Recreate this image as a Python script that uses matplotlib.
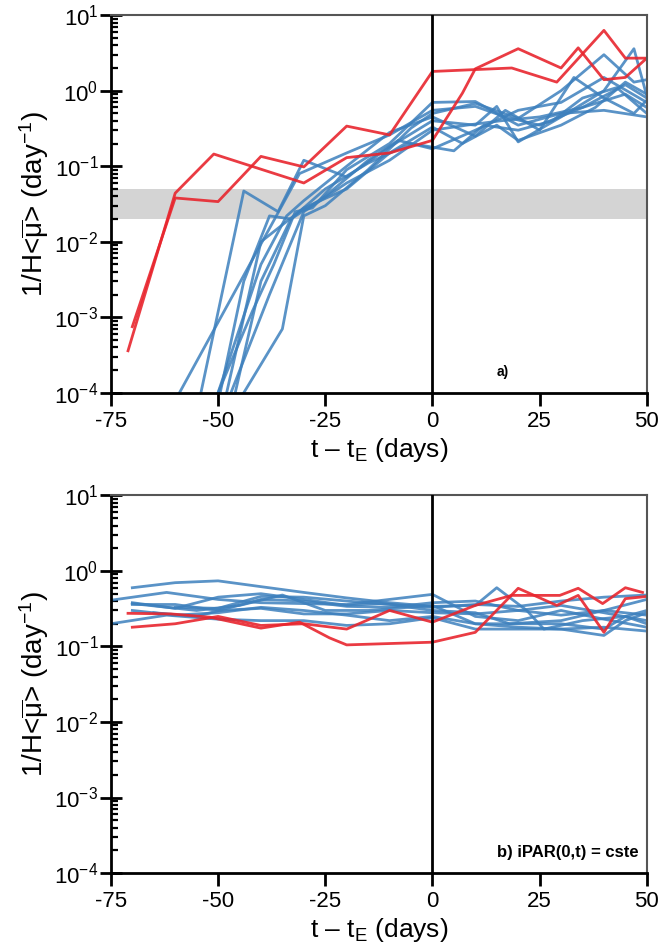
import numpy as np
import matplotlib
matplotlib.use("Agg")
import matplotlib.pyplot as plt
from matplotlib.ticker import LogLocator, LogFormatterMathtext, NullFormatter

plt.rcParams["font.family"] = ["Liberation Sans", "DejaVu Sans"]
plt.rcParams["mathtext.fontset"] = "custom"
plt.rcParams["mathtext.rm"] = "Liberation Sans"
plt.rcParams["mathtext.it"] = "Liberation Sans"
plt.rcParams["mathtext.bf"] = "Liberation Sans:bold"
plt.rcParams["axes.unicode_minus"] = False

# ---- panel a) : red runs ----
red_a_t = [[-71, -60, -51, -30, -20, -10, 0, 7, 10, 20, 30, 34, 40, 45, 50],
           [-70, -60, -50, -40, -30, -20, -10, 0, 18.5, 29, 40, 45, 50]]
red_a_v = [[0.00036, 0.044, 0.145, 0.06, 0.13, 0.15, 0.22, 0.93, 1.95, 3.6, 2.0, 3.7, 1.4, 1.5, 2.7],
           [0.00075, 0.038, 0.034, 0.135, 0.098, 0.34, 0.26, 1.8, 2.0, 1.3, 6.3, 2.7, 2.7]]

# ---- panel a) : blue runs ----
blue_a_t = [[-59, -31, -20, -10, 0, 10, 17, 25, 35, 45, 50],
            [-54, -44, -36, -30, -20, -10, 0, 10, 15, 20, 30, 40, 47, 50],
            [-50, -40, -34, -30, -20, -10, 0, 10, 17, 25, 33, 40, 47, 50],
            [-49.5, -44, -38, -33, -25, -15, -5, 5, 12, 20, 28, 35, 43, 50],
            [-48, -40, -30, -20, -10, 0, 7, 15, 20, 30, 38, 45, 50],
            [-44, -35, -30, -25, -15, -5, 0, 10, 20, 30, 40, 47, 50],
            [-50, -42, -37, -32, -28, -20, -10, 0, 10, 20, 30, 40, 50],
            [-46, -40, -33, -25, -15, -8, 0, 10, 20, 30, 40, 50],
            [-47, -38, -30, -20, -10, 0, 8, 16, 25, 35, 45, 50]]
blue_a_v = [[1e-4, 0.08, 0.15, 0.26, 0.55, 0.62, 0.45, 0.35, 0.6, 1.2, 0.8],
            [1e-4, 0.047, 0.025, 0.12, 0.072, 0.18, 0.4, 0.35, 0.62, 0.21, 0.45, 1.0, 3.6, 0.85],
            [1e-4, 0.005, 0.022, 0.035, 0.1, 0.28, 0.45, 0.25, 0.55, 0.3, 1.5, 0.8, 0.5, 0.75],
            [1e-4, 0.003, 0.022, 0.02, 0.05, 0.11, 0.2, 0.16, 0.35, 0.3, 0.4, 0.8, 1.1, 0.5],
            [1e-4, 0.01, 0.028, 0.05, 0.15, 0.33, 0.2, 0.35, 0.22, 0.35, 0.6, 1.3, 0.9],
            [1e-4, 0.0007, 0.022, 0.03, 0.09, 0.32, 0.5, 0.68, 0.43, 1.0, 3.0, 1.3, 1.4],
            [1e-4, 0.0012, 0.005, 0.025, 0.028, 0.09, 0.2, 0.7, 0.72, 0.35, 0.5, 0.55, 0.45],
            [1e-4, 0.003, 0.02, 0.04, 0.12, 0.22, 0.17, 0.3, 0.55, 0.7, 1.5, 0.7],
            [1e-4, 0.002, 0.025, 0.06, 0.12, 0.3, 0.35, 0.4, 0.45, 0.6, 0.9, 0.6]]

# ---- panel b) : red runs ----
red_b_t = [[-71, -61, -52, -40, -31, -24, -20, 0, 10, 20, 29, 34, 40, 45, 50],
           [-70, -60, -50, -40, -30, -20, -10, 0, 10, 18.5, 29.7, 34, 39.7, 45, 49]]
red_b_v = [[0.275, 0.27, 0.245, 0.175, 0.21, 0.13, 0.105, 0.114, 0.154, 0.59, 0.35, 0.475, 0.154, 0.43, 0.46],
           [0.18, 0.2, 0.25, 0.19, 0.2, 0.17, 0.3, 0.21, 0.35, 0.475, 0.475, 0.59, 0.37, 0.6, 0.52]]

# ---- panel b) : blue runs ----
blue_b_t = [[-70, -60, -50, -40, -30, -20, -10, 0, 10, 15, 22, 26, 35, 45, 50],
            [-75, -62, -50, -40, -30, -20, -10, 0, 10, 20, 30, 40, 50],
            [-70, -60, -50, -40, -30, -20, -12, 0, 10, 20, 30, 40, 50],
            [-70, -55, -45, -35, -25, -15, 0, 10, 20, 30, 40, 45, 50],
            [-70, -60, -50, -40, -30, -20, -10, 0, 10, 20, 30, 40, 45, 50],
            [-75, -62, -50, -40, -30, -20, -10, 0, 10, 20, 30, 40, 50],
            [-70, -60, -50, -40, -30, -20, -10, 0, 10, 20, 30, 40, 50],
            [-65, -55, -40, -30, -20, -10, 0, 10, 20, 30, 40, 50],
            [-60, -50, -40, -30, -20, -10, 0, 10, 18, 30, 40, 50]]
blue_b_v = [[0.6, 0.7, 0.74, 0.62, 0.52, 0.44, 0.38, 0.34, 0.35, 0.6, 0.3, 0.17, 0.22, 0.25, 0.3],
            [0.41, 0.52, 0.42, 0.38, 0.37, 0.36, 0.42, 0.49, 0.25, 0.22, 0.3, 0.23, 0.18],
            [0.38, 0.32, 0.45, 0.5, 0.42, 0.35, 0.37, 0.33, 0.36, 0.34, 0.4, 0.45, 0.48],
            [0.37, 0.3, 0.35, 0.48, 0.3, 0.3, 0.35, 0.2, 0.2, 0.2, 0.17, 0.25, 0.2],
            [0.3, 0.26, 0.28, 0.33, 0.3, 0.26, 0.22, 0.25, 0.2, 0.18, 0.17, 0.14, 0.22, 0.28],
            [0.2, 0.26, 0.23, 0.22, 0.22, 0.19, 0.2, 0.24, 0.17, 0.17, 0.17, 0.18, 0.16],
            [0.36, 0.36, 0.3, 0.32, 0.27, 0.27, 0.3, 0.28, 0.27, 0.3, 0.35, 0.28, 0.22],
            [0.28, 0.25, 0.42, 0.4, 0.34, 0.33, 0.38, 0.4, 0.3, 0.26, 0.3, 0.26],
            [0.33, 0.32, 0.46, 0.45, 0.4, 0.36, 0.3, 0.28, 0.2, 0.22, 0.3, 0.42]]

xticks = [-75, -50, -25, 0, 25, 50]
band = (0.02, 0.05)

BLUE = "#3d80bd"
RED = "#e8262e"

fig = plt.figure(figsize=(6.6, 9.51), dpi=100)
ax1 = fig.add_axes([0.168, 0.587, 0.812, 0.397])
ax2 = fig.add_axes([0.168, 0.082, 0.812, 0.397])


def style(ax):
    ax.set_yscale("log")
    ax.set_xlim(-75, 50)
    ax.set_ylim(1e-4, 10)
    ax.axvline(0, color="black", lw=2, zorder=3)
    ax.set_xticks(xticks)
    ax.xaxis.set_ticks_position("bottom")
    ax.yaxis.set_ticks_position("left")
    ax.yaxis.set_major_locator(LogLocator(base=10, numticks=10))
    ax.yaxis.set_major_formatter(LogFormatterMathtext())
    ax.yaxis.set_minor_locator(LogLocator(base=10, subs=np.arange(2, 10), numticks=20))
    ax.yaxis.set_minor_formatter(NullFormatter())
    ax.tick_params(axis="y", which="major", direction="inout", length=16, width=2,
                   labelsize=16, pad=1)
    ax.tick_params(axis="y", which="minor", direction="in", length=5, width=1.6)
    ax.tick_params(axis="x", which="major", direction="out", length=9, width=2,
                   labelsize=16, pad=4)
    for s in ["left", "bottom"]:
        ax.spines[s].set_linewidth(2)
        ax.spines[s].set_color("black")
    for s in ["top", "right"]:
        ax.spines[s].set_linewidth(1.5)
        ax.spines[s].set_color("#555555")
    ax.set_xlabel("t – t$_\\mathrm{E}$ (days)", fontsize=19, labelpad=3)
    ax.set_ylabel("1/H<$\\overline{\\mu}$> (day$^{-1}$)", fontsize=20, labelpad=2)


# panel a
ax1.axhspan(band[0], band[1], color="#d4d4d4", zorder=0, lw=0)
for t, v in zip(blue_a_t, blue_a_v):
    ax1.plot(t, v, color=BLUE, lw=2, alpha=0.85, zorder=2)
for t, v in zip(red_a_t, red_a_v):
    ax1.plot(t, v, color=RED, lw=2, alpha=0.9, zorder=2)
style(ax1)
ax1.text(16.5, 1.9e-4, "a)", fontsize=10, fontweight="bold", ha="center", va="center")

# panel b
for t, v in zip(blue_b_t, blue_b_v):
    ax2.plot(t, v, color=BLUE, lw=2, alpha=0.85, zorder=2)
for t, v in zip(red_b_t, red_b_v):
    ax2.plot(t, v, color=RED, lw=2, alpha=0.9, zorder=2)
style(ax2)
ax2.text(0.985, 0.055, "b) iPAR(0,t) = cste", transform=ax2.transAxes,
         fontsize=12, fontweight="bold", ha="right", va="center",
         family=["Liberation Sans Narrow", "Liberation Sans"])

fig.savefig("out.png", dpi=100)
